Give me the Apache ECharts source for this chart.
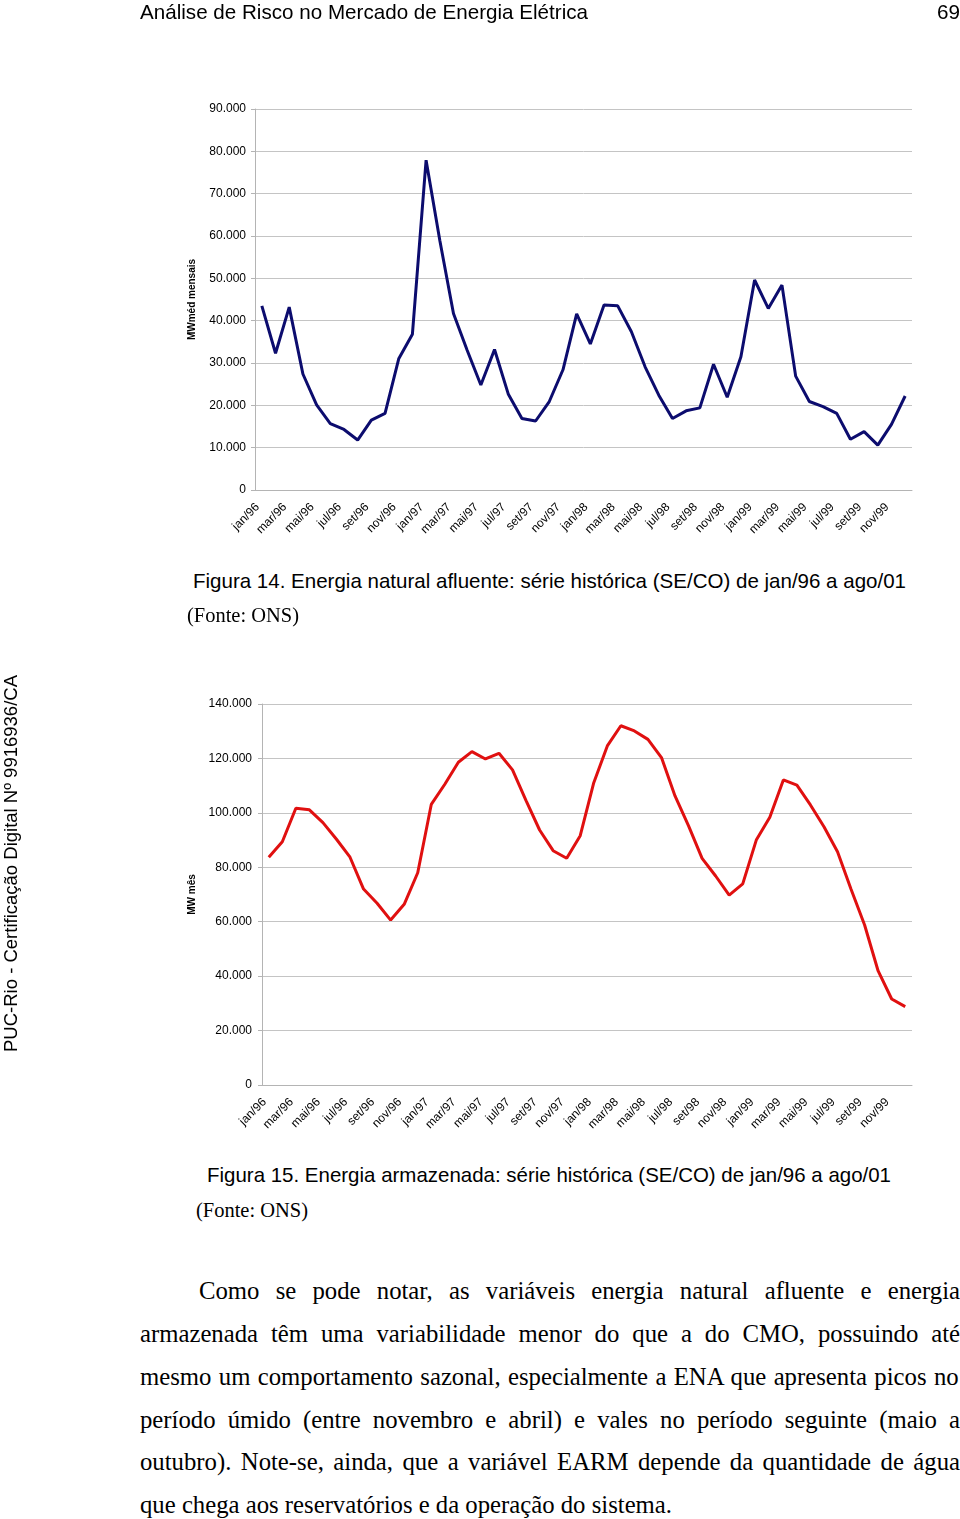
<!DOCTYPE html>
<html>
<head>
<meta charset="utf-8">
<script src="https://cdn.jsdelivr.net/npm/echarts@6/dist/echarts.min.js"></script>
<style>
  html, body { margin: 0; padding: 0; background: #fff; }
  #page { position: relative; width: 960px; height: 1519px; overflow: hidden; background: #fff; }
  .chart { position: absolute; left: 0; width: 960px; }
  .txt { position: absolute; white-space: nowrap; color: #000; transform-origin: 0 0; }
</style>
</head>
<body>
<div id="page">
  <div id="ena" class="chart" style="top:0;height:560px"></div>
  <div id="earm" class="chart" style="top:600px;height:560px"></div>
</div>
<script>
// meses jan/96 .. dez/99
const months = ['jan', 'fev', 'mar', 'abr', 'mai', 'jun', 'jul', 'ago', 'set', 'out', 'nov', 'dez']
const years = ['96', '97', '98', '99']
const categories = []
years.forEach(y => months.forEach(m => categories.push(m + '/' + y)))

// Figura 14 - energia natural afluente (MWmed mensais)
const enaValues = [
  43500, 32300, 43200, 27400, 20100, 15700, 14300, 11800, 16500, 18100, 31000, 36800,
  77900, 59000, 41700, 33000, 24800, 33200, 22700, 16900, 16300, 20900, 28400, 41600,
  34500, 43700, 43500, 37400, 29100, 22400, 16900, 18700, 19400, 29700, 21900, 31500,
  49600, 42900, 48400, 26900, 20900, 19700, 18100, 12000, 13800, 10600, 15500, 22200
]

// Figura 15 - energia armazenada (MW mes)
const earmValues = [
  83700, 89400, 101700, 101100, 96400, 90300, 83700, 72000, 66800, 60600, 66400, 78000,
  103100, 110500, 118600, 122500, 119800, 121900, 115800, 104500, 93700, 86100, 83300, 91600,
  111100, 124600, 132000, 130100, 127000, 120300, 106200, 95200, 83300, 76800, 69800, 73900,
  90000, 98400, 112100, 110200, 102900, 94900, 85700, 71900, 58800, 41900, 31600, 28800
]

const enaTicks = { min: 0, max: 90000, step: 10000 }
const earmTicks = { min: 0, max: 140000, step: 20000 }

const paragraph = [
  'Como se pode notar, as variáveis energia natural afluente e energia',
  'armazenada têm uma variabilidade menor do que a do CMO, possuindo até',
  'mesmo um comportamento sazonal, especialmente a ENA que apresenta picos no',
  'período úmido (entre novembro e abril) e vales no período seguinte (maio a',
  'outubro). Note-se, ainda, que a variável EARM depende da quantidade de água',
  'que chega aos reservatórios e da operação do sistema.'
]

const SANS = '"Liberation Sans", Arial, sans-serif'
const SERIF = '"Liberation Serif", "Times New Roman", serif'

function fmt(v) {
  return v === 0 ? '0' : String(v).replace(/\B(?=(\d{3})+(?!\d))/g, '.')
}

function lineChart(el, cfg) {
  const chart = echarts.init(el)
  chart.setOption({
    animation: false,
    textStyle: { fontFamily: SANS },
    grid: { left: cfg.left, top: cfg.top, width: cfg.width, height: 381, outerBoundsMode: 'none' },
    xAxis: {
      type: 'category',
      data: categories,
      boundaryGap: true,
      axisLine: { lineStyle: { color: '#b4b4b4', width: 1 } },
      axisTick: { interval: 1, length: 4, lineStyle: { color: '#b4b4b4' } },
      axisLabel: {
        interval: 1, rotate: 45, margin: 11, padding: [0, 6, 0, 0],
        color: '#000', fontSize: 12, fontFamily: SANS
      }
    },
    yAxis: {
      type: 'value',
      min: cfg.ticks.min,
      max: cfg.ticks.max,
      interval: cfg.ticks.step,
      name: cfg.name,
      nameLocation: 'middle',
      nameGap: cfg.nameGap,
      nameTextStyle: { fontWeight: 'bold', fontSize: 10, color: '#000', fontFamily: SANS },
      axisLine: { show: true, lineStyle: { color: '#b4b4b4' } },
      axisTick: { show: true, length: 4, lineStyle: { color: '#b4b4b4' } },
      axisLabel: { margin: cfg.labelMargin, formatter: fmt, color: '#000', fontSize: 12, fontFamily: SANS },
      splitLine: { lineStyle: { color: '#c4c4c4', width: 1 } }
    },
    series: [{
      type: 'line',
      data: cfg.data,
      symbol: 'none',
      smooth: false,
      lineStyle: { color: cfg.color, width: 3 },
      itemStyle: { color: cfg.color }
    }]
  })
  return chart
}

lineChart(document.getElementById('ena'), {
  left: 255, top: 109, width: 657, ticks: enaTicks, data: enaValues,
  name: 'MWméd mensais', nameGap: 58, labelMargin: 9, color: '#0c0c6e'
})
lineChart(document.getElementById('earm'), {
  left: 262, top: 104, width: 650, ticks: earmTicks, data: earmValues,
  name: 'MW mês', nameGap: 65, labelMargin: 10, color: '#e01010'
})

// page text
const page = document.getElementById('page')
const ctx = document.createElement('canvas').getContext('2d')

function measure(str, size, family) {
  ctx.font = size + 'px ' + family
  return ctx.measureText(str).width
}

function addText(str, o) {
  const el = document.createElement('div')
  el.className = 'txt'
  el.textContent = str
  el.style.fontFamily = o.family
  el.style.fontSize = o.size + 'px'
  el.style.lineHeight = o.size + 'px'
  const natural = measure(str, o.size, o.family)
  let sx = o.width / natural
  if (o.k && sx > o.k) {
    const gaps = str.split(' ').length - 1
    el.style.wordSpacing = ((o.width / o.k - natural) / gaps) + 'px'
    sx = o.k
  }
  if (o.vertical) {
    el.style.left = (o.cx - 0.49 * o.size) + 'px'
    el.style.top = o.bottom + 'px'
    el.style.transform = 'rotate(-90deg) scaleX(' + sx + ')'
  } else {
    el.style.left = o.left + 'px'
    el.style.top = (o.cy - 0.5 * o.size) + 'px'
    el.style.transform = 'scaleX(' + sx + ')'
  }
  page.appendChild(el)
}

addText('Análise de Risco no Mercado de Energia Elétrica', { left: 140, cy: 11, width: 448, size: 21, family: SANS })
addText('69', { left: 937, cy: 11, width: 23, size: 21, family: SANS })

addText('Figura 14. Energia natural afluente: série histórica (SE/CO) de jan/96 a ago/01', { left: 193, cy: 580, width: 713, size: 21, family: SANS })
addText('(Fonte: ONS)', { left: 187, cy: 615, width: 112, size: 21, family: SERIF })

addText('PUC-Rio - Certificação Digital Nº 9916936/CA', { vertical: true, cx: 10, bottom: 1052, width: 377, size: 19, family: SANS })

addText('Figura 15. Energia armazenada: série histórica (SE/CO) de jan/96 a ago/01', { left: 207, cy: 1174, width: 684, size: 21, family: SANS })
addText('(Fonte: ONS)', { left: 196, cy: 1210, width: 112, size: 21, family: SERIF })

// paragraph, justified lines
const paraSize = 26
const paraK = 532 / measure(paragraph[5], paraSize, SERIF)
const paraLines = [
  { left: 199, cy: 1291, width: 761 },
  { left: 140, cy: 1334, width: 820 },
  { left: 140, cy: 1377, width: 820 },
  { left: 140, cy: 1420, width: 820 },
  { left: 140, cy: 1462, width: 820 },
  { left: 140, cy: 1505, width: 532 }
]
paragraph.forEach((line, i) => {
  const p = paraLines[i]
  addText(line, { left: p.left, cy: p.cy, width: p.width, size: paraSize, family: SERIF, k: i < 5 ? paraK : null })
})
</script>
</body>
</html>
